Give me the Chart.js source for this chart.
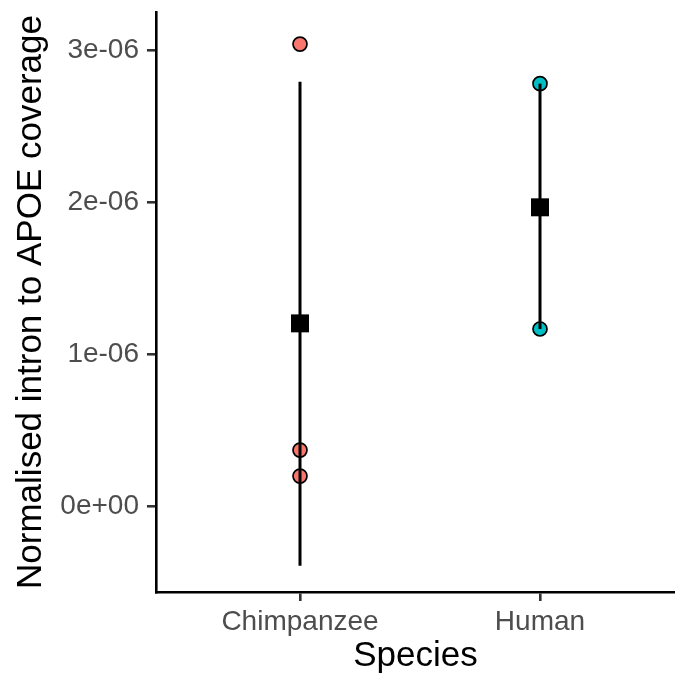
<!DOCTYPE html>
<html>
<head>
<meta charset="utf-8">
<script src="https://cdn.jsdelivr.net/npm/chart.js@4"></script>
<style>
  html, body { margin: 0; padding: 0; background: #fff; }
</style>
</head>
<body>
<canvas id="coverageChart" width="675" height="682"></canvas>
<script>
// Data
const species = ['Chimpanzee', 'Human'];
const speciesColors = ['#F8766D', '#00BFC4'];
const chimpValues = [3.04e-6, 0.371e-6, 0.2e-6];
const humanValues = [2.78e-6, 1.167e-6];
const means = [1.204e-6, 1.967e-6];
const errLow = [-0.389e-6, 1.167e-6];
const errHigh = [2.793e-6, 2.78e-6];
const yTickValues = [0, 1e-6, 2e-6, 3e-6];
const yTickLabels = ['0e+00', '1e-06', '2e-06', '3e-06'];

const tickFont = { family: 'Liberation Sans', size: 28 };
const titleFont = { family: 'Liberation Sans', size: 35 };

// x positions are the category index (1-based), like a discrete ggplot axis
const pointData = (values, idx) => values.map(v => ({ x: idx + 1, y: v }));

const datasets = [
    {
        label: 'mean',
        data: means.map((m, i) => ({ x: i + 1, y: m })),
        pointStyle: 'rect',
        pointRadius: 12.7,
        backgroundColor: '#000',
        borderWidth: 0,
        order: 0
    }
];

species.forEach((s, i) => {
    datasets.push({
        label: s + ' range',
        type: 'line',
        data: [{ x: i + 1, y: errLow[i] }, { x: i + 1, y: errHigh[i] }],
        showLine: true,
        borderColor: '#000',
        borderWidth: 3,
        pointRadius: 0,
        order: 1
    });
});

[chimpValues, humanValues].forEach((vals, i) => {
    datasets.push({
        label: species[i],
        data: pointData(vals, i),
        pointRadius: 7,
        backgroundColor: speciesColors[i],
        borderColor: '#000',
        borderWidth: 1.7,
        order: 2
    });
});

const ctx = document.getElementById('coverageChart').getContext('2d');
new Chart(ctx, {
    type: 'scatter',
    data: { datasets: datasets },
    options: {
        responsive: false,
        animation: false,
        layout: { autoPadding: false, padding: { top: 12, right: 0, bottom: 0, left: 0 } },
        plugins: {
            legend: { display: false },
            tooltip: { enabled: false }
        },
        scales: {
            x: {
                type: 'linear',
                min: 0.4,
                max: 2.5625,
                afterBuildTicks: scale => {
                    scale.ticks = species.map((s, i) => ({ value: i + 1 }));
                },
                afterFit: scale => {
                    scale.height = 90;
                    scale.paddingLeft = 0;
                    scale.paddingRight = 0;
                },
                ticks: {
                    callback: value => species[value - 1],
                    font: tickFont,
                    color: '#4D4D4D',
                    padding: 4,
                    maxRotation: 0
                },
                grid: {
                    drawOnChartArea: false,
                    tickLength: 9,
                    color: '#333333',
                    lineWidth: 2.6
                },
                border: { color: '#000', width: 2.6 },
                title: {
                    display: true,
                    text: 'Species',
                    font: titleFont,
                    color: '#000',
                    padding: { top: 0, bottom: 5 }
                }
            },
            y: {
                type: 'linear',
                min: -0.562e-6,
                max: 3.251e-6,
                afterBuildTicks: scale => {
                    scale.ticks = yTickValues.map(v => ({ value: v }));
                },
                afterFit: scale => {
                    scale.width = 156;
                    scale.paddingTop = 0;
                    scale.paddingBottom = 0;
                },
                ticks: {
                    callback: value => yTickLabels[yTickValues.indexOf(value)],
                    font: tickFont,
                    color: '#4D4D4D',
                    padding: 8
                },
                grid: {
                    drawOnChartArea: false,
                    tickLength: 9,
                    color: '#333333',
                    lineWidth: 2.6
                },
                border: { color: '#000', width: 2.6 },
                title: {
                    display: true,
                    text: 'Normalised intron to APOE coverage',
                    font: titleFont,
                    color: '#000',
                    padding: { top: 10, bottom: 0 }
                }
            }
        }
    }
});
</script>
</body>
</html>
